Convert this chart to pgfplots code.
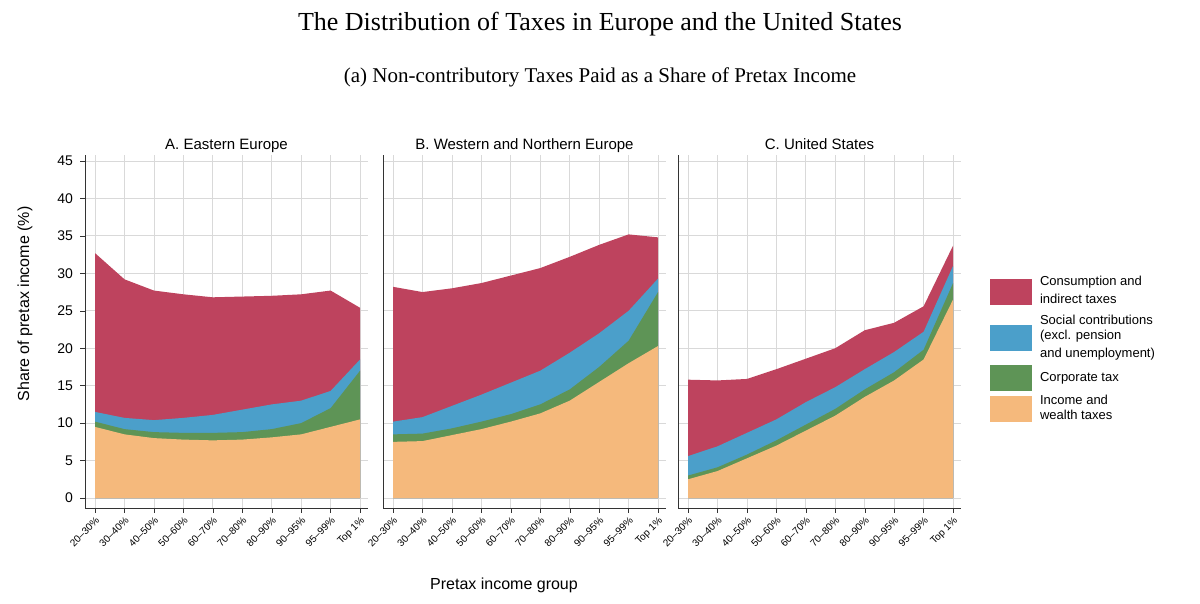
\documentclass[border=0pt]{standalone}
\usepackage{pgfplots}
\pgfplotsset{compat=1.18}
\usepackage{fontspec}
\setmainfont{Liberation Sans}
\newfontfamily\serif{Liberation Serif}
\definecolor{cons}{HTML}{BE435E}
\definecolor{soc}{HTML}{4B9FCA}
\definecolor{corp}{HTML}{5E9456}
\definecolor{inc}{HTML}{F5B97C}
\pgfplotsset{panel/.style={
  scale only axis, width=141.5pt, height=176.5pt,
  xmin=-0.34, xmax=9.27, ymin=-1.33, ymax=45.8,
  axis x line*=bottom, axis y line*=left,
  axis line style={black!80},
  xtick={0,...,9},
  xticklabels={20--30\%,30--40\%,40--50\%,50--60\%,60--70\%,70--80\%,80--90\%,90--95\%,95--99\%,Top 1\%},
  x tick label style={rotate=45, anchor=north east, font=\fontsize{5}{6}\selectfont, inner sep=1pt},
  ytick={0,5,...,45},
  y tick label style={font=\fontsize{7}{8}\selectfont},
  grid=major, grid style={black!15, line width=0.4pt},
  tick style={black!80}, tick align=outside, major tick length=2.5pt,
  title style={font=\fontsize{7.5}{9}\selectfont, yshift=-8pt, text depth=0.25ex},
  /pgf/number format/assume math mode=true,
  legend cell align=left,
}}
\begin{document}
\begin{tikzpicture}
\path[use as bounding box] (0,0) rectangle (600pt,302pt);
\node[font=\serif\fontsize{13}{15}\selectfont] at (300pt,290pt) {The Distribution of Taxes in Europe and the United States};
\node[font=\serif\fontsize{10.5}{12}\selectfont] at (300pt,263.5pt) {(a) Non-contributory Taxes Paid as a Share of Pretax Income};
\node[font=\fontsize{8}{10}\selectfont] at (252pt,9.5pt) {Pretax income group};
\node[font=\fontsize{8}{10}\selectfont, rotate=90] at (12.5pt,150pt) {Share of pretax income (\%)};

\begin{axis}[panel, at={(42.5pt,48pt)}, anchor=south west, title={A. Eastern Europe}]
\addplot[fill=cons, draw=none] coordinates {(0,32.7)(1,29.2)(2,27.7)(3,27.2)(4,26.8)(5,26.9)(6,27)(7,27.2)(8,27.7)(9,25.4)} \closedcycle;
\addplot[fill=soc, draw=none] coordinates {(0,11.5)(1,10.7)(2,10.4)(3,10.7)(4,11.1)(5,11.8)(6,12.5)(7,13)(8,14.3)(9,18.5)} \closedcycle;
\addplot[fill=corp, draw=none] coordinates {(0,10.2)(1,9.2)(2,8.8)(3,8.7)(4,8.7)(5,8.8)(6,9.2)(7,10)(8,12)(9,17)} \closedcycle;
\addplot[fill=inc, draw=none] coordinates {(0,9.5)(1,8.5)(2,8)(3,7.8)(4,7.7)(5,7.8)(6,8.1)(7,8.5)(8,9.5)(9,10.5)} \closedcycle;
\end{axis}

\begin{axis}[panel, at={(191.5pt,48pt)}, anchor=south west, title={B. Western and Northern Europe}, yticklabels={}, ytick style={draw=none}]
\addplot[fill=cons, draw=none] coordinates {(0,28.2)(1,27.5)(2,28)(3,28.7)(4,29.7)(5,30.7)(6,32.2)(7,33.8)(8,35.2)(9,34.8)} \closedcycle;
\addplot[fill=soc, draw=none] coordinates {(0,10.2)(1,10.8)(2,12.3)(3,13.8)(4,15.4)(5,17)(6,19.4)(7,22)(8,25)(9,29.3)} \closedcycle;
\addplot[fill=corp, draw=none] coordinates {(0,8.5)(1,8.6)(2,9.3)(3,10.2)(4,11.2)(5,12.5)(6,14.5)(7,17.5)(8,21)(9,27.5)} \closedcycle;
\addplot[fill=inc, draw=none] coordinates {(0,7.5)(1,7.6)(2,8.4)(3,9.2)(4,10.2)(5,11.3)(6,13)(7,15.5)(8,18)(9,20.3)} \closedcycle;
\end{axis}

\begin{axis}[panel, at={(339pt,48pt)}, anchor=south west, title={C. United States}, yticklabels={}, ytick style={draw=none},
  legend style={at={(1.08,0.68)}, anchor=north west, draw=none, font=\fontsize{6.5}{7}\selectfont, row sep=0pt,
    /tikz/every odd column/.append style={column sep=2pt}},
  legend image code/.code={\fill[#1] (0pt,-6.5pt) rectangle (21pt,6.5pt);}]
\addplot[fill=cons, draw=none] coordinates {(0,15.8)(1,15.7)(2,15.9)(3,17.2)(4,18.6)(5,20)(6,22.4)(7,23.4)(8,25.6)(9,33.7)} \closedcycle;
\addplot[fill=soc, draw=none] coordinates {(0,5.6)(1,6.9)(2,8.7)(3,10.5)(4,12.8)(5,14.8)(6,17.2)(7,19.5)(8,22.2)(9,31)} \closedcycle;
\addplot[fill=corp, draw=none] coordinates {(0,3)(1,4.1)(2,5.8)(3,7.7)(4,9.8)(5,11.9)(6,14.5)(7,16.8)(8,19.8)(9,28.7)} \closedcycle;
\addplot[fill=inc, draw=none] coordinates {(0,2.5)(1,3.6)(2,5.3)(3,7)(4,9)(5,11)(6,13.5)(7,15.7)(8,18.5)(9,26.5)} \closedcycle;
\legend{\shortstack[l]{Consumption and\\indirect taxes},\shortstack[l]{Social contributions\\(excl. pension\\and unemployment)},Corporate tax,\shortstack[l]{Income and\\wealth taxes}}
\end{axis}
\end{tikzpicture}
\end{document}
